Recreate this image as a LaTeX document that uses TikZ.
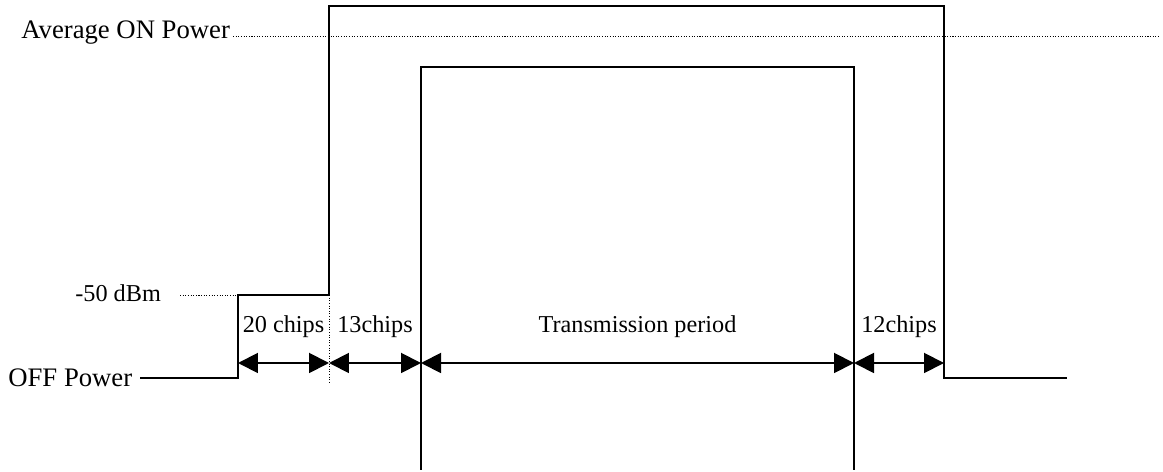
\documentclass[tikz,border=0pt]{standalone}
\usepackage{fontspec}
\setmainfont{Liberation Serif}
\usetikzlibrary{arrows.meta,positioning,calc}

\begin{document}
\begin{tikzpicture}[x=0.02cm,y=-0.02cm,
    level/.style={line width=1.1pt},
    guide/.style={line width=0.5pt, dash pattern=on 0.6pt off 0.9pt},
    span/.style={line width=1.1pt, {Triangle[length=0.4cm,width=0.4cm]}-{Triangle[length=0.4cm,width=0.4cm]}},
    txt/.style={inner sep=0pt, font=\fontsize{13.8}{16}\selectfont},
    bigtxt/.style={inner sep=0pt, font=\fontsize{15.2}{18}\selectfont}]
    \useasboundingbox (0,0) rectangle (1163,472);

    % Level labels
    \node[bigtxt, anchor=base west] (avg) at (21,39) {Average ON Power};
    \node[txt, anchor=base west] (dbm) at (75,302) {-50 dBm};
    \node[bigtxt, anchor=base west] (off) at (8,387) {OFF Power};

    % Corners of the outer burst
    \coordinate (offL) at (140,378);
    \coordinate (rise1) at (238,378);
    \coordinate (step1) at (238,295);
    \coordinate (step2) at (329,295);
    \coordinate (top1) at (329,6);
    \coordinate (top2) at (944,6);
    \coordinate (fall) at (944,378);
    \coordinate (offR) at (1067,378);
    \draw[level] (offL) -- (rise1) -- (step1) -- (step2) -- (top1) -- (top2) -- (fall) -- (offR);

    % Transmission window
    \coordinate (win1) at (421,470);
    \coordinate (win2) at (421,67);
    \coordinate (win3) at (854,67);
    \coordinate (win4) at (854,470);
    \draw[level] (win1) -- (win2) -- (win3) -- (win4);

    % Dotted guides
    \coordinate (avgL) at (233,36); \coordinate (avgR) at (1160,36);
    \coordinate (dbmL) at (180,295);
    \coordinate (markB) at (329,383);
    \draw[guide] (avgL) -- (avgR);
    \draw[guide] (dbmL) -- (step1);
    \draw[guide] (step2) -- (markB);

    % Spans
    \foreach \n/\x in {1/238,2/329,3/421,4/854,5/944} \coordinate (t\n) at (\x,363);
    \foreach \i/\j/\lab in {1/2/20 chips,2/3/13chips,3/4/Transmission period,4/5/12chips} {
        \draw[span] (t\i) -- (t\j);
        \node[txt, anchor=base] (lab\i) at ($(t\i)!0.5!(t\j)+(0,-30)$) {\lab};
    }
\end{tikzpicture}
\end{document}
